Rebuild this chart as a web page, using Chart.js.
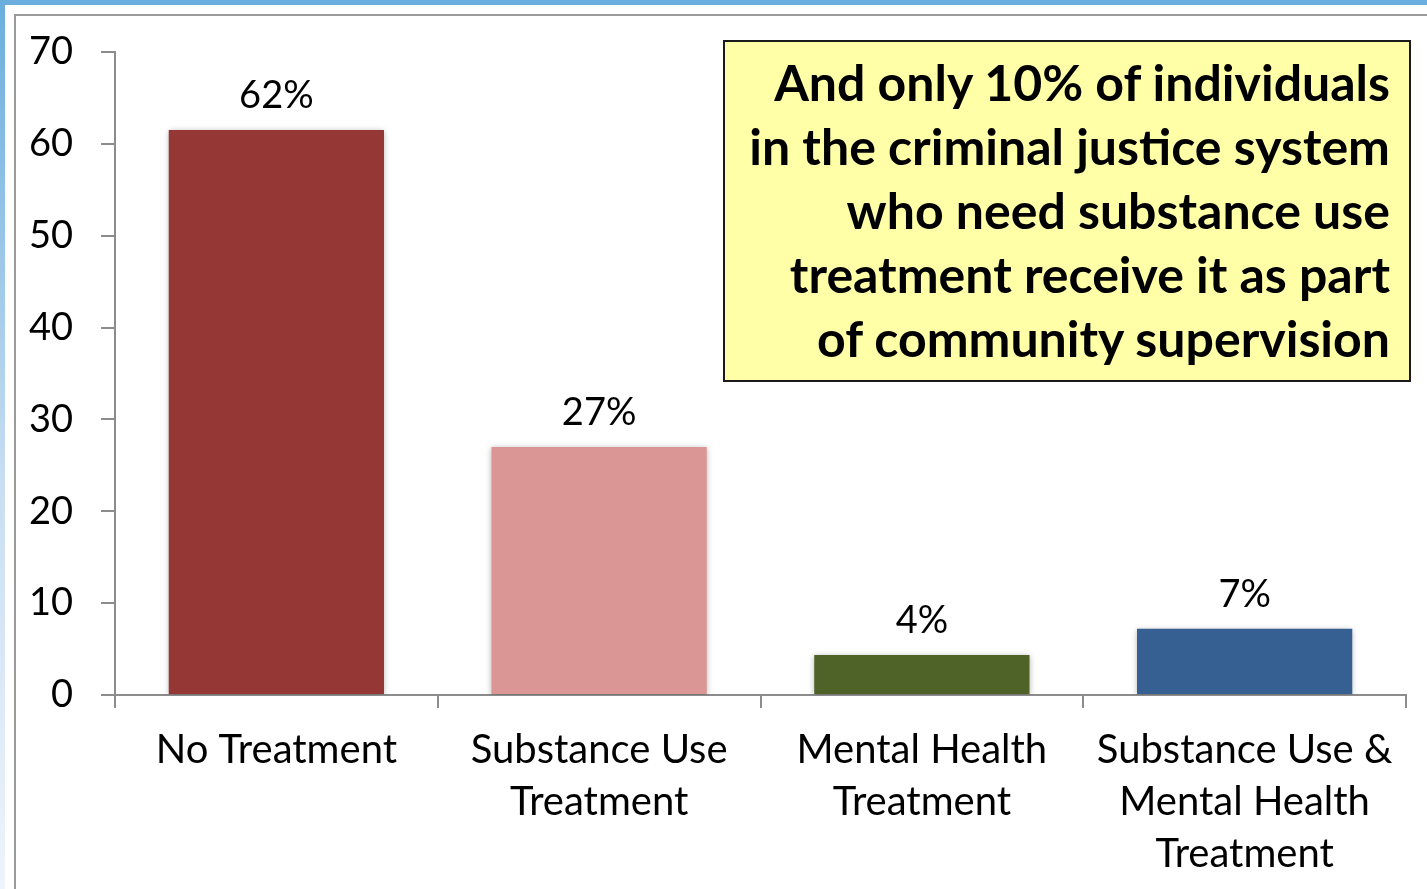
<!DOCTYPE html>
<html>
<head>
<meta charset="utf-8">
<script src="https://cdn.jsdelivr.net/npm/chart.js@4.4.1/dist/chart.umd.min.js"></script>
<style>
  html, body { margin: 0; padding: 0; width: 1427px; height: 889px; overflow: hidden; }
  body { background: linear-gradient(to bottom, #6aaedd 0%, #c9def2 55%, #eef4fb 100%); position: relative; font-family: Lato, sans-serif; }
  #panel { position: absolute; left: 5px; top: 5px; right: 0; bottom: 0; background: #fff; }
  #frame { position: absolute; left: 14px; top: 14px; width: 1500px; height: 1000px; border: 2px solid #9b9b9b; box-sizing: border-box; }
  #wrap { position: absolute; left: 0; top: 0; width: 1427px; height: 889px; }
  #note { position: absolute; left: 723px; top: 40px; width: 688px; height: 342px; box-sizing: border-box;
          background: #ffffa8; border: 2px solid #1a1a1a; text-align: right; padding: 8px 19px 0 0; white-space: nowrap;
          font-family: Lato, sans-serif; font-weight: 700; font-size: 50px; line-height: 64px; color: #000; }
</style>
</head>
<body>
<div id="panel"></div>
<div id="frame"></div>
<div id="wrap"><canvas id="c" width="1427" height="889"></canvas></div>
<div id="note">And only 10% of individuals<br>in the criminal justice system<br>who need substance use<br>treatment receive it as part<br>of community supervision</div>
<script>
const categories = [["No Treatment"], ["Substance Use", "Treatment"], ["Mental Health", "Treatment"], ["Substance Use &", "Mental Health", "Treatment"]];
const values = [61.5, 27.0, 4.35, 7.2];
const valueLabels = ["62%", "27%", "4%", "7%"];
const barColors = ["#953735", "#d99694", "#4f6228", "#376092"];
const yTicks = [0, 10, 20, 30, 40, 50, 60, 70];

const fontFamily = "Lato, sans-serif";

const shadowPlugin = {
  id: 'barShadow',
  beforeDatasetsDraw(chart) {
    const ctx = chart.ctx;
    ctx.save();
    ctx.shadowColor = 'rgba(0,0,0,0.28)';
    ctx.shadowBlur = 6;
    ctx.shadowOffsetX = 0;
    ctx.shadowOffsetY = 1;
  },
  afterDatasetsDraw(chart) {
    chart.ctx.restore();
  }
};

const labelPlugin = {
  id: 'valueLabels',
  afterDatasetsDraw(chart) {
    const ctx = chart.ctx;
    const meta = chart.getDatasetMeta(0);
    ctx.save();
    ctx.font = "38px " + fontFamily;
    ctx.fillStyle = "#000";
    ctx.textAlign = "center";
    ctx.textBaseline = "alphabetic";
    meta.data.forEach((bar, i) => {
      ctx.fillText(valueLabels[i], bar.x, bar.y - 22);
    });
    ctx.restore();
  }
};

new Chart(document.getElementById('c'), {
  type: 'bar',
  data: {
    labels: categories,
    datasets: [{
      data: values,
      backgroundColor: barColors,
      borderWidth: 0,
      categoryPercentage: 1.0,
      barPercentage: 0.667
    }]
  },
  options: {
    responsive: false,
    animation: false,
    devicePixelRatio: 1,
    layout: { padding: { left: 0, right: 21, top: 52, bottom: 0 } },
    plugins: { legend: { display: false }, tooltip: { enabled: false } },
    scales: {
      x: {
        grid: { display: true, drawOnChartArea: false, drawTicks: true, tickLength: 13, color: '#8c8c8c', lineWidth: 2, offset: true },
        border: { display: true, color: '#8c8c8c', width: 2 },
        ticks: { color: '#000', font: { family: fontFamily, size: 40, lineHeight: 1.3 }, padding: 16, maxRotation: 0, autoSkip: false },
        afterFit(axis) { axis.height = 194; }
      },
      y: {
        min: 0, max: 70,
        afterBuildTicks(axis) { axis.ticks = yTicks.map(v => ({ value: v })); },
        grid: { display: true, drawOnChartArea: false, drawTicks: true, tickLength: 14, color: '#8c8c8c', lineWidth: 2 },
        border: { display: true, color: '#8c8c8c', width: 2 },
        ticks: { color: '#000', font: { family: fontFamily, size: 38 }, padding: 28 },
        afterFit(axis) { axis.width = 115; }
      }
    }
  },
  plugins: [shadowPlugin, labelPlugin]
});
</script>
</body>
</html>
